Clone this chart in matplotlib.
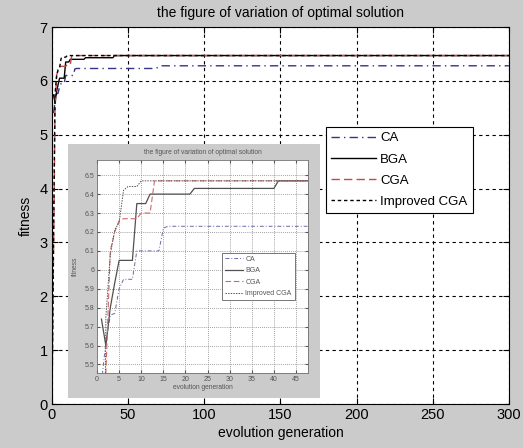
#python3
import matplotlib
matplotlib.use("Agg")
import matplotlib.pyplot as plt
import matplotlib.ticker as ticker

plt.rcParams['font.family'] = ['Liberation Sans', 'DejaVu Sans']

# fitness per generation (break points)
ca_gen = [1, 2, 3, 4, 5, 6, 8, 9, 14, 15, 16, 68, 72, 300]
ca_fit = [5.40, 5.62, 5.76, 5.77, 5.90, 5.95, 5.95, 6.10, 6.10, 6.22, 6.23, 6.23, 6.28, 6.28]

bga_gen = [1, 2, 3, 4, 5, 8, 9, 11, 12, 21, 22, 40, 41, 300]
bga_fit = [5.74, 5.60, 5.80, 5.93, 6.05, 6.05, 6.35, 6.35, 6.40, 6.40, 6.43, 6.43, 6.47, 6.47]

cga_gen = [0, 2, 3, 4, 5, 6, 9, 10, 12, 13, 300]
cga_fit = [0.0, 5.45, 6.10, 6.20, 6.26, 6.27, 6.27, 6.30, 6.30, 6.47, 6.47]

imp_gen = [0, 1, 2, 3, 4, 5, 6, 7, 9, 10, 300]
imp_fit = [0.0, 3.0, 5.75, 6.08, 6.21, 6.25, 6.42, 6.44, 6.44, 6.47, 6.47]

labels = ['CA', 'BGA', 'CGA', 'Improved CGA']
main_xticks = [0, 50, 100, 150, 200, 250, 300]
main_yticks = [0, 1, 2, 3, 4, 5, 6, 7]
inset_xticks = [0, 5, 10, 15, 20, 25, 30, 35, 40, 45]
inset_yticks = [5.5, 5.6, 5.7, 5.8, 5.9, 6.0, 6.1, 6.2, 6.3, 6.4, 6.5]

bg = '#cbcbcb'
fig = plt.figure(figsize=(5.23, 4.48), dpi=100, facecolor=bg)

# ---- main axes ----
ax = fig.add_axes([0.0994, 0.0982, 0.8736, 0.8415])
ax.plot(ca_gen, ca_fit, color='#34348a', ls='-.', lw=1.0, dashes=[6, 3, 1, 3], label=labels[0])
ax.plot(bga_gen, bga_fit, color='black', ls='-', lw=1.0, label=labels[1])
ax.plot(cga_gen, cga_fit, color='#c84848', ls='--', lw=1.0, dashes=[6, 3], label=labels[2])
ax.plot(imp_gen, imp_fit, color='black', ls=':', lw=1.0, dashes=[2.5, 2], label=labels[3])
ax.set_xlim(0, 300)
ax.set_ylim(0, 7)
ax.set_xticks(main_xticks)
ax.set_yticks(main_yticks)
ax.tick_params(direction='in', length=4, labelsize=10.5, top=True, right=True, pad=3)
ax.grid(True, color='black', ls=(0, (3, 3)), lw=0.8)
for s in ax.spines.values():
    s.set_linewidth(0.8)
ax.set_title('the figure of variation of optimal solution', fontsize=10, pad=7)
ax.set_xlabel('evolution generation', fontsize=10, labelpad=3)
ax.set_ylabel('fitness', fontsize=10, labelpad=5)
leg = ax.legend(loc='upper left', bbox_to_anchor=(0.60, 0.735), fontsize=9.5,
                handlelength=3.4, handletextpad=0.3, labelspacing=0.68,
                borderpad=0.4, fancybox=False, framealpha=1, edgecolor='black',
                borderaxespad=0)
leg.get_frame().set_linewidth(0.8)

# ---- gray background of the embedded figure ----
bgax = fig.add_axes([0.130, 0.1116, 0.482, 0.567])
bgax.set_facecolor(bg)
bgax.set_xticks([])
bgax.set_yticks([])
for s in bgax.spines.values():
    s.set_visible(False)

# ---- inset axes (zoom on the first generations) ----
tc = '#555555'
ins = fig.add_axes([0.1855, 0.1674, 0.4034, 0.4754])
ins.plot(ca_gen, ca_fit, color='#6a6aa8', lw=0.7, dashes=[4, 2, 1, 2])
ins.plot(bga_gen, bga_fit, color='#505050', lw=0.9)
ins.plot(cga_gen, cga_fit, color='#d06a6a', lw=0.8, dashes=[5, 2.5])
ins.plot(imp_gen, imp_fit, color='#555555', lw=0.7, dashes=[1.5, 1.2])
ins.set_xlim(0, 47.7)
ins.set_ylim(5.455, 6.58)
ins.set_xticks(inset_xticks)
ins.set_yticks(inset_yticks)
ins.yaxis.set_major_formatter(ticker.FuncFormatter(lambda v, p: '%g' % round(v, 1)))
ins.tick_params(direction='in', length=2, labelsize=5, colors=tc, top=True, right=True, pad=2)
ins.grid(True, color='#808080', ls=(0, (1, 1.5)), lw=0.6)
for s in ins.spines.values():
    s.set_color('#707070')
    s.set_linewidth(0.6)
ins.set_title('the figure of variation of optimal solution', fontsize=4.8, color=tc, pad=4)
ins.set_xlabel('evolution generation', fontsize=4.8, color=tc, labelpad=1)
ins.set_ylabel('fitness', fontsize=4.8, color=tc, labelpad=4)
ileg = ins.legend(labels, loc='upper left', bbox_to_anchor=(0.592, 0.565), fontsize=5,
                  handlelength=2.6, handletextpad=0.3, labelspacing=0.65,
                  borderpad=0.45, fancybox=False, framealpha=1, edgecolor='#606060',
                  borderaxespad=0)
ileg.get_frame().set_linewidth(0.6)
for t in ileg.get_texts():
    t.set_color(tc)

fig.savefig('out.png', dpi=100, facecolor=bg)
